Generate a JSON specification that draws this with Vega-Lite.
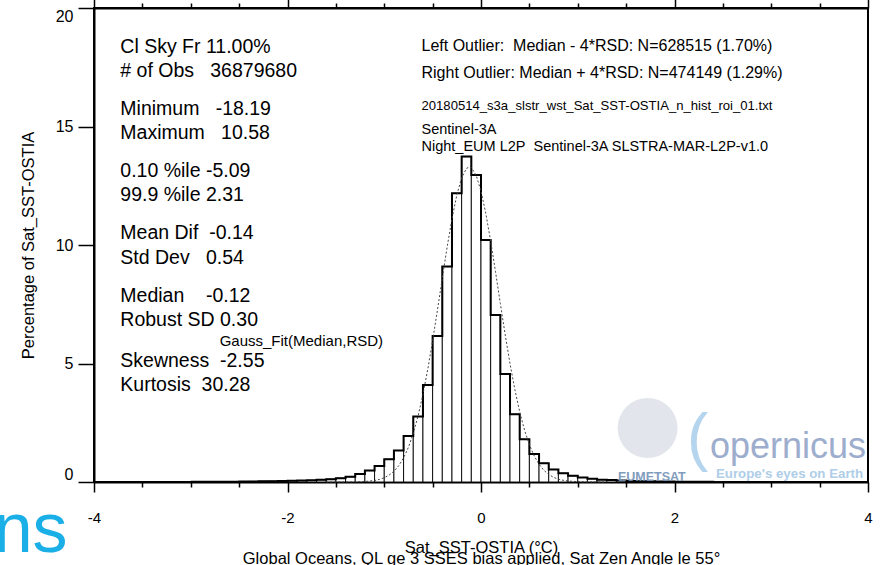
{
  "$schema": "https://vega.github.io/schema/vega-lite/v6.json",
  "width": 774,
  "height": 474,
  "autosize": {"type": "none"},
  "padding": {"left": 94, "top": 8, "right": 23, "bottom": 83},
  "background": "white",
  "config": {
    "font": "Liberation Sans",
    "view": {"stroke": "black", "strokeWidth": 2},
    "axis": {"grid": false, "domainColor": "black", "domainWidth": 2, "tickColor": "black", "tickWidth": 1.5, "labelColor": "black", "titleColor": "black", "labelFont": "Liberation Sans", "titleFont": "Liberation Sans", "titleFontWeight": "normal"},
    "text": {"font": "Liberation Sans", "color": "black", "align": "left", "baseline": "alphabetic"}
  },
  "datasets": {
    "hist": [
      {"lo": -3.0, "hi": -2.9, "pct": 0.008},
      {"lo": -2.9, "hi": -2.8, "pct": 0.009},
      {"lo": -2.8, "hi": -2.7, "pct": 0.010},
      {"lo": -2.7, "hi": -2.6, "pct": 0.012},
      {"lo": -2.6, "hi": -2.5, "pct": 0.015},
      {"lo": -2.5, "hi": -2.4, "pct": 0.02},
      {"lo": -2.4, "hi": -2.3, "pct": 0.025},
      {"lo": -2.3, "hi": -2.2, "pct": 0.03},
      {"lo": -2.2, "hi": -2.1, "pct": 0.035},
      {"lo": -2.1, "hi": -2.0, "pct": 0.04},
      {"lo": -2.0, "hi": -1.9, "pct": 0.05},
      {"lo": -1.9, "hi": -1.8, "pct": 0.06},
      {"lo": -1.8, "hi": -1.7, "pct": 0.07},
      {"lo": -1.7, "hi": -1.6, "pct": 0.09},
      {"lo": -1.6, "hi": -1.5, "pct": 0.12},
      {"lo": -1.5, "hi": -1.4, "pct": 0.16},
      {"lo": -1.4, "hi": -1.3, "pct": 0.22},
      {"lo": -1.3, "hi": -1.2, "pct": 0.34},
      {"lo": -1.2, "hi": -1.1, "pct": 0.48},
      {"lo": -1.1, "hi": -1.0, "pct": 0.68},
      {"lo": -1.0, "hi": -0.9, "pct": 0.96},
      {"lo": -0.9, "hi": -0.8, "pct": 1.33},
      {"lo": -0.8, "hi": -0.7, "pct": 1.94},
      {"lo": -0.7, "hi": -0.6, "pct": 2.76},
      {"lo": -0.6, "hi": -0.5, "pct": 4.09},
      {"lo": -0.5, "hi": -0.4, "pct": 6.16},
      {"lo": -0.4, "hi": -0.3, "pct": 9.09},
      {"lo": -0.3, "hi": -0.2, "pct": 12.18},
      {"lo": -0.2, "hi": -0.1, "pct": 13.73},
      {"lo": -0.1, "hi": 0.0, "pct": 12.95},
      {"lo": 0.0, "hi": 0.1, "pct": 10.21},
      {"lo": 0.1, "hi": 0.2, "pct": 7.05},
      {"lo": 0.2, "hi": 0.3, "pct": 4.56},
      {"lo": 0.3, "hi": 0.4, "pct": 2.86},
      {"lo": 0.4, "hi": 0.5, "pct": 1.80},
      {"lo": 0.5, "hi": 0.6, "pct": 1.18},
      {"lo": 0.6, "hi": 0.7, "pct": 0.79},
      {"lo": 0.7, "hi": 0.8, "pct": 0.53},
      {"lo": 0.8, "hi": 0.9, "pct": 0.37},
      {"lo": 0.9, "hi": 1.0, "pct": 0.26},
      {"lo": 1.0, "hi": 1.1, "pct": 0.19},
      {"lo": 1.1, "hi": 1.2, "pct": 0.14},
      {"lo": 1.2, "hi": 1.3, "pct": 0.10},
      {"lo": 1.3, "hi": 1.4, "pct": 0.08},
      {"lo": 1.4, "hi": 1.5, "pct": 0.06},
      {"lo": 1.5, "hi": 1.6, "pct": 0.045},
      {"lo": 1.6, "hi": 1.7, "pct": 0.035},
      {"lo": 1.7, "hi": 1.8, "pct": 0.03},
      {"lo": 1.8, "hi": 1.9, "pct": 0.025},
      {"lo": 1.9, "hi": 2.0, "pct": 0.02},
      {"lo": 2.0, "hi": 2.1, "pct": 0.015},
      {"lo": 2.1, "hi": 2.2, "pct": 0.012},
      {"lo": 2.2, "hi": 2.3, "pct": 0.010},
      {"lo": 2.3, "hi": 2.4, "pct": 0.008},
      {"lo": 2.4, "hi": 2.5, "pct": 0.006}
    ],
    "gauss": [
      {"gx": -1.6, "gy": 0.0002},
      {"gx": -1.4, "gy": 0.0015},
      {"gx": -1.3, "gy": 0.006},
      {"gx": -1.2, "gy": 0.020},
      {"gx": -1.1, "gy": 0.064},
      {"gx": -1.05, "gy": 0.109},
      {"gx": -1.0, "gy": 0.180},
      {"gx": -0.95, "gy": 0.290},
      {"gx": -0.9, "gy": 0.453},
      {"gx": -0.85, "gy": 0.689},
      {"gx": -0.8, "gy": 1.019},
      {"gx": -0.75, "gy": 1.466},
      {"gx": -0.7, "gy": 2.052},
      {"gx": -0.65, "gy": 2.793},
      {"gx": -0.6, "gy": 3.697},
      {"gx": -0.55, "gy": 4.761},
      {"gx": -0.5, "gy": 5.962},
      {"gx": -0.45, "gy": 7.262},
      {"gx": -0.4, "gy": 8.603},
      {"gx": -0.35, "gy": 9.912},
      {"gx": -0.3, "gy": 11.108},
      {"gx": -0.25, "gy": 12.107},
      {"gx": -0.2, "gy": 12.834},
      {"gx": -0.15, "gy": 13.232},
      {"gx": -0.12, "gy": 13.298},
      {"gx": -0.1, "gy": 13.268},
      {"gx": -0.05, "gy": 12.941},
      {"gx": 0.0, "gy": 12.276},
      {"gx": 0.05, "gy": 11.326},
      {"gx": 0.1, "gy": 10.162},
      {"gx": 0.15, "gy": 8.870},
      {"gx": 0.2, "gy": 7.528},
      {"gx": 0.25, "gy": 6.215},
      {"gx": 0.3, "gy": 4.991},
      {"gx": 0.35, "gy": 3.898},
      {"gx": 0.4, "gy": 2.960},
      {"gx": 0.45, "gy": 2.187},
      {"gx": 0.5, "gy": 1.572},
      {"gx": 0.55, "gy": 1.098},
      {"gx": 0.6, "gy": 0.746},
      {"gx": 0.65, "gy": 0.494},
      {"gx": 0.7, "gy": 0.317},
      {"gx": 0.75, "gy": 0.198},
      {"gx": 0.8, "gy": 0.121},
      {"gx": 0.85, "gy": 0.071},
      {"gx": 0.9, "gy": 0.041},
      {"gx": 1.0, "gy": 0.0125},
      {"gx": 1.1, "gy": 0.0034},
      {"gx": 1.3, "gy": 0.0002}
    ],
    "stats": [
      {"y": 18.11, "t": "Cl Sky Fr 11.00%"},
      {"y": 17.10, "t": "# of Obs\u00a0\u00a0\u00a036879680"},
      {"y": 15.49, "t": "Minimum\u00a0\u00a0\u00a0-18.19"},
      {"y": 14.46, "t": "Maximum\u00a0\u00a0\u00a010.58"},
      {"y": 12.88, "t": "0.10 %ile -5.09"},
      {"y": 11.87, "t": "99.9 %ile 2.31"},
      {"y": 10.24, "t": "Mean Dif\u00a0\u00a0-0.14"},
      {"y": 9.20, "t": "Std Dev\u00a0\u00a0\u00a00.54"},
      {"y": 7.61, "t": "Median\u00a0\u00a0\u00a0\u00a0-0.12"},
      {"y": 6.58, "t": "Robust SD 0.30"},
      {"y": 4.86, "t": "Skewness\u00a0\u00a0-2.55"},
      {"y": 3.85, "t": "Kurtosis\u00a0\u00a030.28"}
    ],
    "outliers": [
      {"y": 18.20, "t": "Left Outlier:\u00a0\u00a0Median - 4*RSD: N=628515 (1.70%)"},
      {"y": 17.03, "t": "Right Outlier: Median + 4*RSD: N=474149 (1.29%)"}
    ],
    "fname": [
      {"y": 15.70, "t": "20180514_s3a_slstr_wst_Sat_SST-OSTIA_n_hist_roi_01.txt"}
    ],
    "sensor": [
      {"y": 14.68, "t": "Sentinel-3A"},
      {"y": 13.95, "t": "Night_EUM L2P\u00a0\u00a0Sentinel-3A SLSTRA-MAR-L2P-v1.0"}
    ],
    "gausslabel": [
      {"x": -2.701, "y": 5.75, "t": "Gauss_Fit(Median,RSD)"}
    ],
    "corner": [
      {"x": -4.273, "y": -2.95, "t": "ns"}
    ],
    "globe": [
      {"x": 1.722, "y": 2.28}
    ],
    "logoC": [
      {"x": 2.129, "y": 0.95, "t": "("}
    ],
    "logoWord": [
      {"x": 2.366, "y": 1.013, "t": "opernicus"}
    ],
    "logoTag": [
      {"x": 2.428, "y": 0.18, "t": "Europe's eyes on Earth"}
    ],
    "logoEum": [
      {"x": 1.415, "y": 0.04, "t": "EUMETSAT"}
    ]
  },
  "resolve": {"axis": {"x": "independent", "y": "independent"}},
  "layer": [
    {
      "data": {"name": "hist"},
      "mark": {"type": "rect", "fill": "white", "stroke": "black", "strokeWidth": 0.9},
      "encoding": {
        "x": {
          "field": "lo", "type": "quantitative",
          "scale": {"domain": [-4, 4], "nice": false, "zero": false},
          "axis": {
            "orient": "bottom",
            "values": [-4, -3.5, -3, -2.5, -2, -1.5, -1, -0.5, 0, 0.5, 1, 1.5, 2, 2.5, 3, 3.5, 4],
            "labelExpr": "datum.value % 2 === 0 ? '' + datum.value : ''",
            "tickSize": {"condition": {"test": "datum.value % 2 === 0", "value": 10}, "value": 5},
            "labelFontSize": 15,
            "labelPadding": 18,
            "labelFlush": false,
            "labelOverlap": false,
            "title": ["Sat_SST-OSTIA (°C)", "Global Oceans, QL ge 3 SSES bias applied, Sat Zen Angle le 55°"],
            "titleFontSize": 16.5,
            "titleLineHeight": 11,
            "titleBaseline": "alphabetic",
            "titleY": 70
          }
        },
        "x2": {"field": "hi"},
        "y": {
          "field": "pct", "type": "quantitative",
          "scale": {"domain": [0, 20], "nice": false},
          "axis": {
            "orient": "left",
            "values": [0, 5, 10, 15, 20],
            "tickSize": 16,
            "labelFontSize": 16,
            "labelPadding": 5,
            "labelFlush": true,
            "labelOverlap": false,
            "title": "Percentage of Sat_SST-OSTIA",
            "titleFontSize": 16.5,
            "titleBaseline": "middle",
            "titleX": -66
          }
        },
        "y2": {"datum": 0}
      }
    },
    {
      "data": {"name": "hist"},
      "mark": {"type": "line", "interpolate": "step-after", "color": "black", "strokeWidth": 2},
      "encoding": {
        "x": {
          "field": "lo", "type": "quantitative",
          "scale": {"domain": [-4, 4], "nice": false, "zero": false},
          "axis": {
            "orient": "top",
            "values": [-4, -3.5, -3, -2.5, -2, -1.5, -1, -0.5, 0, 0.5, 1, 1.5, 2, 2.5, 3, 3.5, 4],
            "labels": false,
            "tickSize": {"condition": {"test": "datum.value % 2 === 0", "value": 10}, "value": 5},
            "title": null
          }
        },
        "y": {"field": "pct", "type": "quantitative", "axis": null}
      }
    },
    {
      "data": {"name": "gauss"},
      "mark": {"type": "line", "color": "#444444", "strokeWidth": 1, "strokeDash": [2, 2]},
      "encoding": {
        "x": {"field": "gx", "type": "quantitative", "axis": null},
        "y": {"field": "gy", "type": "quantitative", "axis": null}
      }
    },
    {
      "data": {"name": "stats"},
      "mark": {"type": "text", "fontSize": 19.5},
      "encoding": {
        "x": {"datum": -3.728, "type": "quantitative", "axis": null},
        "y": {"field": "y", "type": "quantitative", "axis": null},
        "text": {"field": "t"}
      }
    },
    {
      "data": {"name": "outliers"},
      "mark": {"type": "text", "fontSize": 16},
      "encoding": {
        "x": {"datum": -0.615, "type": "quantitative", "axis": null},
        "y": {"field": "y", "type": "quantitative", "axis": null},
        "text": {"field": "t"}
      }
    },
    {
      "data": {"name": "fname"},
      "mark": {"type": "text", "fontSize": 13.1},
      "encoding": {
        "x": {"datum": -0.615, "type": "quantitative", "axis": null},
        "y": {"field": "y", "type": "quantitative", "axis": null},
        "text": {"field": "t"}
      }
    },
    {
      "data": {"name": "sensor"},
      "mark": {"type": "text", "fontSize": 14.5},
      "encoding": {
        "x": {"datum": -0.615, "type": "quantitative", "axis": null},
        "y": {"field": "y", "type": "quantitative", "axis": null},
        "text": {"field": "t"}
      }
    },
    {
      "data": {"name": "gausslabel"},
      "mark": {"type": "text", "fontSize": 15},
      "encoding": {
        "x": {"field": "x", "type": "quantitative", "axis": null},
        "y": {"field": "y", "type": "quantitative", "axis": null},
        "text": {"field": "t"}
      }
    },
    {
      "data": {"name": "corner"},
      "mark": {"type": "text", "fontSize": 70, "align": "right", "color": "#1aafe6"},
      "encoding": {
        "x": {"field": "x", "type": "quantitative", "axis": null},
        "y": {"field": "y", "type": "quantitative", "axis": null},
        "text": {"field": "t"}
      }
    },
    {
      "data": {"name": "globe"},
      "mark": {"type": "point", "shape": "circle", "filled": true, "size": 3600, "color": "#dde1e7", "opacity": 0.85},
      "encoding": {
        "x": {"field": "x", "type": "quantitative", "axis": null},
        "y": {"field": "y", "type": "quantitative", "axis": null}
      }
    },
    {
      "data": {"name": "logoC"},
      "mark": {"type": "text", "fontSize": 64, "color": "#a9cdea", "opacity": 0.85},
      "encoding": {
        "x": {"field": "x", "type": "quantitative", "axis": null},
        "y": {"field": "y", "type": "quantitative", "axis": null},
        "text": {"field": "t"}
      }
    },
    {
      "data": {"name": "logoWord"},
      "mark": {"type": "text", "fontSize": 36, "color": "#93a5c8", "opacity": 0.9},
      "encoding": {
        "x": {"field": "x", "type": "quantitative", "axis": null},
        "y": {"field": "y", "type": "quantitative", "axis": null},
        "text": {"field": "t"}
      }
    },
    {
      "data": {"name": "logoTag"},
      "mark": {"type": "text", "fontSize": 13.3, "fontWeight": "bold", "color": "#a7c9e6", "opacity": 0.9},
      "encoding": {
        "x": {"field": "x", "type": "quantitative", "axis": null},
        "y": {"field": "y", "type": "quantitative", "axis": null},
        "text": {"field": "t"}
      }
    },
    {
      "data": {"name": "logoEum"},
      "mark": {"type": "text", "fontSize": 12.5, "fontWeight": "bold", "color": "#7393b8", "opacity": 0.9},
      "encoding": {
        "x": {"field": "x", "type": "quantitative", "axis": null},
        "y": {"field": "y", "type": "quantitative", "axis": null},
        "text": {"field": "t"}
      }
    }
  ]
}
